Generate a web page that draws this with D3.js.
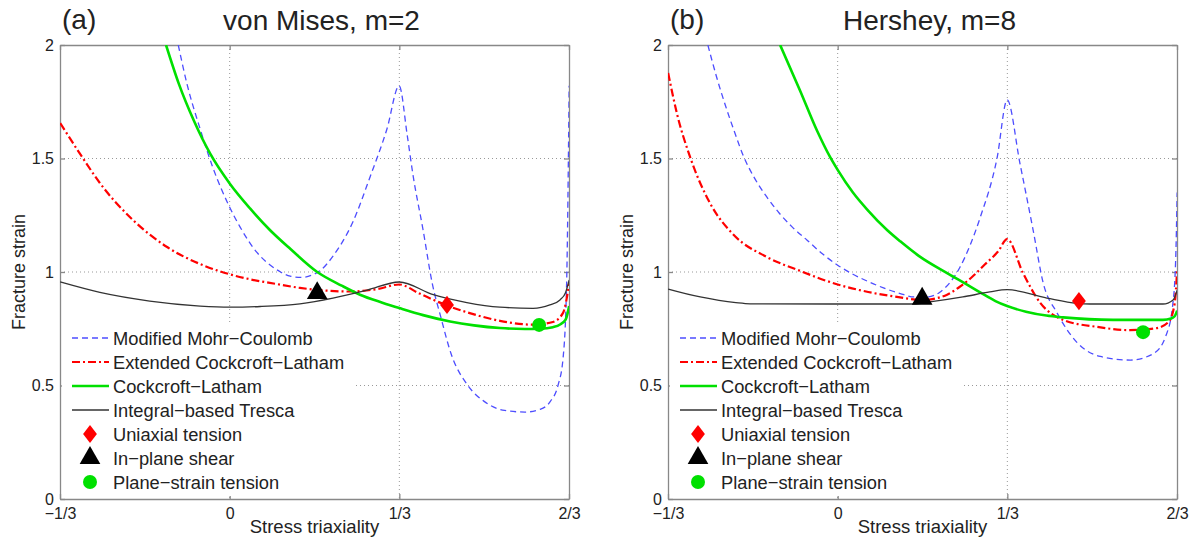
<!DOCTYPE html>
<html>
<head>
<meta charset="utf-8">
<script src="https://cdn.jsdelivr.net/npm/d3@7"></script>
<style>
  body { margin: 0; background: #fff; }
  text { font-family: "Liberation Sans", Arial, sans-serif; fill: #222; }
</style>
</head>
<body>
<svg id="chart"></svg>
<script>
// values: [stress triaxiality, fracture strain]
const mohrVonMises = [[-0.101,2.0],[-0.084,1.83],[-0.058,1.63],[-0.033,1.46],[-0.001,1.29],[0.02,1.2],[0.054,1.085],[0.08,1.03],[0.1,1.0],[0.119,0.982],[0.14,0.976],[0.16,0.985],[0.18,1.01],[0.203,1.07],[0.242,1.22],[0.276,1.42],[0.309,1.63],[0.333,1.82],[0.349,1.6],[0.36,1.43],[0.38,1.185],[0.398,0.95],[0.415,0.8],[0.435,0.64],[0.468,0.5],[0.5,0.43],[0.54,0.39],[0.58,0.383],[0.61,0.395],[0.63,0.43],[0.645,0.5],[0.655,0.62],[0.662,0.95],[0.667,1.82]];
const extCLVonMises = [[-0.333,1.656],[-0.288,1.5],[-0.255,1.392],[-0.19,1.229],[-0.123,1.11],[-0.058,1.035],[0,0.99],[0.04,0.968],[0.09,0.948],[0.138,0.93],[0.19,0.918],[0.236,0.914],[0.29,0.925],[0.333,0.945],[0.373,0.905],[0.424,0.855],[0.47,0.82],[0.531,0.785],[0.596,0.768],[0.635,0.78],[0.655,0.82],[0.667,0.95]];
const clVonMises = [[-0.125,2.0],[-0.1,1.83],[-0.07,1.665],[-0.038,1.52],[0,1.39],[0.04,1.28],[0.079,1.185],[0.12,1.1],[0.172,1.0],[0.22,0.94],[0.256,0.9],[0.3,0.865],[0.335,0.84],[0.38,0.81],[0.433,0.782],[0.48,0.765],[0.531,0.753],[0.58,0.749],[0.61,0.75],[0.635,0.757],[0.65,0.77],[0.66,0.79],[0.667,0.85]];
const trescaVonMises = [[-0.333,0.956],[-0.255,0.91],[-0.157,0.872],[-0.058,0.85],[0,0.845],[0.06,0.848],[0.138,0.86],[0.203,0.885],[0.27,0.92],[0.333,0.956],[0.4,0.9],[0.466,0.865],[0.531,0.845],[0.596,0.84],[0.629,0.855],[0.649,0.877],[0.66,0.91],[0.667,0.965]];

const mohrHershey = [[-0.255,2.0],[-0.238,1.86],[-0.22,1.73],[-0.2,1.6],[-0.186,1.515],[-0.165,1.42],[-0.139,1.33],[-0.115,1.26],[-0.09,1.2],[-0.06,1.14],[-0.03,1.08],[0,1.03],[0.03,0.99],[0.058,0.96],[0.09,0.93],[0.123,0.905],[0.15,0.89],[0.175,0.89],[0.2,0.91],[0.24,1.02],[0.28,1.24],[0.313,1.5],[0.333,1.758],[0.358,1.48],[0.384,1.185],[0.404,0.95],[0.431,0.82],[0.47,0.69],[0.516,0.628],[0.575,0.612],[0.62,0.64],[0.645,0.72],[0.658,0.85],[0.664,1.05],[0.667,1.35]];
const extCLHershey = [[-0.333,1.877],[-0.316,1.70],[-0.29,1.507],[-0.25,1.3],[-0.205,1.165],[-0.139,1.066],[-0.074,1.005],[0,0.945],[0.06,0.912],[0.109,0.893],[0.168,0.877],[0.195,0.885],[0.215,0.9],[0.24,0.935],[0.265,0.98],[0.29,1.035],[0.315,1.09],[0.333,1.145],[0.364,0.996],[0.398,0.864],[0.443,0.789],[0.51,0.758],[0.574,0.744],[0.625,0.752],[0.65,0.78],[0.662,0.86],[0.667,1.01]];
const clHershey = [[-0.113,2.0],[-0.074,1.8],[-0.04,1.62],[-0.015,1.507],[0,1.45],[0.03,1.35],[0.058,1.275],[0.097,1.185],[0.123,1.135],[0.16,1.07],[0.215,0.995],[0.25,0.95],[0.28,0.91],[0.31,0.872],[0.333,0.85],[0.37,0.825],[0.41,0.808],[0.443,0.80],[0.541,0.789],[0.639,0.789],[0.655,0.795],[0.662,0.805],[0.667,0.83]];
const trescaHershey = [[-0.333,0.925],[-0.27,0.89],[-0.2,0.865],[-0.172,0.86],[-0.015,0.859],[0.148,0.859],[0.181,0.868],[0.246,0.89],[0.299,0.912],[0.333,0.922],[0.411,0.885],[0.47,0.862],[0.496,0.859],[0.639,0.859],[0.659,0.877],[0.667,0.92]];

// test points [triaxiality, strain]
const uniaxialPts = [[0.427,0.855],[0.474,0.872]];
const shearPts = [[0.172,0.907],[0.166,0.882]];
const planeStrainPts = [[0.608,0.767],[0.6,0.735]];

const xTicks = [-1/3, 0, 1/3, 2/3];
const xTickLabels = ["\u22121/3", "0", "1/3", "2/3"];
const yTicks = [0, 0.5, 1, 1.5, 2];
const yTickLabels = ["0", "0.5", "1", "1.5", "2"];
const legendNames = ["Modified Mohr\u2212Coulomb", "Extended Cockcroft\u2212Latham", "Cockcroft\u2212Latham", "Integral\u2212based Tresca", "Uniaxial tension", "In\u2212plane shear", "Plane\u2212strain tension"];

const panels = [
  { tag: "(a)", title: "von Mises, m=2", left: 60, curves: [mohrVonMises, extCLVonMises, clVonMises, trescaVonMises], idx: 0 },
  { tag: "(b)", title: "Hershey, m=8", left: 668, curves: [mohrHershey, extCLHershey, clHershey, trescaHershey], idx: 1 }
];

const styles = [
  { stroke: "#4d4dff", width: 1.3, dash: "6,4" },
  { stroke: "#ff0000", width: 2.2, dash: "8,3,2,3" },
  { stroke: "#00e000", width: 2.6, dash: null },
  { stroke: "#333333", width: 1.3, dash: null }
];

const W = 1195, H = 540;
const plotW = 509, plotTop = 45, plotH = 454;

const svg = d3.select("#chart").attr("width", W).attr("height", H);
const defs = svg.append("defs");

const diamond = (g, cx, cy) =>
  g.append("path").attr("d", d3.symbol(d3.symbolDiamond, 150)()).attr("fill", "#f00")
    .attr("transform", `translate(${cx},${cy}) scale(1.05,0.8)`);
const triangle = (g, cx, cy) =>
  g.append("path").attr("d", d3.symbol(d3.symbolTriangle, 185)()).attr("fill", "#000")
    .attr("transform", `translate(${cx},${cy})`);
const dot = (g, cx, cy) =>
  g.append("circle").attr("cx", cx).attr("cy", cy).attr("r", 7).attr("fill", "#00e000");

const drawPanel = p => {
  const x = d3.scaleLinear().domain([-1/3, 2/3]).range([0, plotW]);
  const y = d3.scaleLinear().domain([0, 2]).range([plotH, 0]);
  const g = svg.append("g").attr("transform", `translate(${p.left},${plotTop})`);

  defs.append("clipPath").attr("id", "clip" + p.idx)
    .append("rect").attr("width", plotW).attr("height", plotH);

  // grid
  g.append("g").selectAll("line").data(xTicks.slice(1, 3)).enter().append("line")
    .attr("x1", d => x(d)).attr("x2", d => x(d)).attr("y1", 0).attr("y2", plotH)
    .attr("stroke", "#999").attr("stroke-dasharray", "1,3");
  g.append("g").selectAll("line").data(yTicks.slice(1, 4)).enter().append("line")
    .attr("y1", d => y(d)).attr("y2", d => y(d)).attr("x1", 0).attr("x2", plotW)
    .attr("stroke", "#999").attr("stroke-dasharray", "1,3");

  // axes
  const xAxis = d3.axisBottom(x).tickValues(xTicks).tickFormat((d, i) => xTickLabels[i]).tickSizeInner(-5).tickSizeOuter(0).tickPadding(6);
  const yAxis = d3.axisLeft(y).tickValues(yTicks).tickFormat((d, i) => yTickLabels[i]).tickSizeInner(-5).tickSizeOuter(0).tickPadding(6);
  const gx = g.append("g").attr("transform", `translate(0,${plotH})`).call(xAxis);
  const gy = g.append("g").call(yAxis);
  g.append("g").call(d3.axisTop(x).tickValues(xTicks).tickFormat("").tickSizeInner(-5).tickSizeOuter(0));
  g.append("g").attr("transform", `translate(${plotW},0)`).call(d3.axisRight(y).tickValues(yTicks).tickFormat("").tickSizeInner(-5).tickSizeOuter(0));
  g.selectAll(".domain, .tick line").attr("stroke", "#888").attr("stroke-width", 1.3);
  [gx, gy].forEach(a => a.selectAll("text").attr("font-size", 16).attr("fill", "#222"));
  gx.selectAll("text").attr("dy", "0.9em");

  // curves
  const line = d3.line().x(d => x(d[0])).y(d => y(d[1])).curve(d3.curveMonotoneX);
  const cg = g.append("g").attr("clip-path", `url(#clip${p.idx})`);
  p.curves.forEach((c, i) => {
    cg.append("path").attr("d", line(c)).attr("fill", "none")
      .attr("stroke", styles[i].stroke).attr("stroke-width", styles[i].width)
      .attr("stroke-dasharray", styles[i].dash);
  });

  // markers
  const u = uniaxialPts[p.idx], s = shearPts[p.idx], ps = planeStrainPts[p.idx];
  diamond(g, x(u[0]), y(u[1]));
  triangle(g, x(s[0]), y(s[1]));
  dot(g, x(ps[0]), y(ps[1]));

  // legend
  const lg = g.append("g").attr("transform", "translate(2,277)");
  lg.append("rect").attr("width", 292).attr("height", 174).attr("fill", "#fff");
  legendNames.forEach((name, i) => {
    const ry = 16 + i * 24;
    if (i < 4) {
      lg.append("line").attr("x1", 10).attr("x2", 47).attr("y1", ry).attr("y2", ry)
        .attr("stroke", styles[i].stroke).attr("stroke-width", styles[i].width)
        .attr("stroke-dasharray", styles[i].dash);
    } else if (i === 4) {
      diamond(lg, 28, ry);
    } else if (i === 5) {
      triangle(lg, 28, ry);
    } else {
      dot(lg, 28, ry);
    }
    lg.append("text").attr("x", 51).attr("y", ry).attr("dy", "0.36em")
      .attr("font-size", 18.3).text(name);
  });

  // labels
  g.append("text").attr("x", plotW / 2).attr("y", plotH + 34).attr("text-anchor", "middle")
    .attr("font-size", 18.5).text("Stress triaxiality");
  g.append("text").attr("transform", `translate(-35,${plotH / 2}) rotate(-90)`)
    .attr("text-anchor", "middle").attr("font-size", 18).text("Fracture strain");
  g.append("text").attr("x", 2).attr("y", -16).attr("font-size", 28).text(p.tag);
  g.append("text").attr("x", plotW / 2 + 7).attr("y", -15).attr("text-anchor", "middle")
    .attr("font-size", 28).text(p.title);
};

panels.forEach(drawPanel);
</script>
</body>
</html>
